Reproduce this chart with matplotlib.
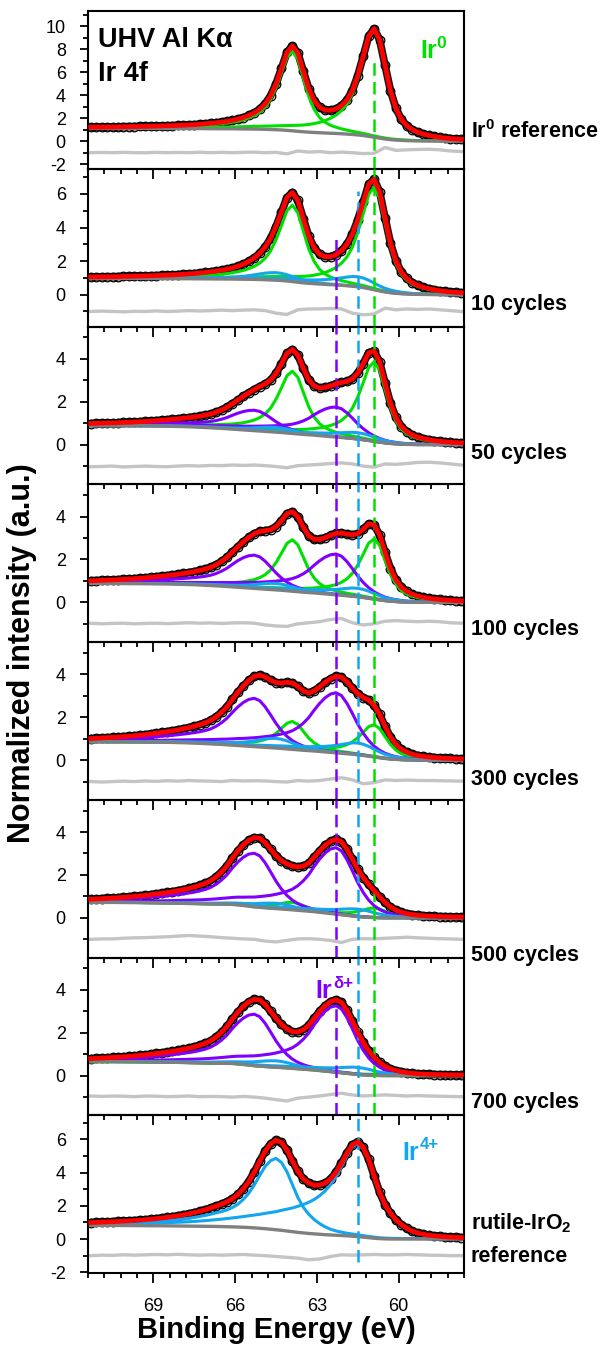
import numpy as np
import matplotlib
matplotlib.use('Agg')
from matplotlib import pyplot as plt
from matplotlib.ticker import MultipleLocator

plt.rcParams['font.family'] = ['Liberation Sans', 'DejaVu Sans']
plt.rcParams['axes.unicode_minus'] = False
plt.rcParams['mathtext.fontset'] = 'custom'
plt.rcParams['mathtext.rm'] = 'Liberation Sans:bold'
plt.rcParams['mathtext.it'] = 'Liberation Sans:bold'
plt.rcParams['mathtext.bf'] = 'Liberation Sans:bold'

# binding energy of the fit curves (71.3 ... 57.7 eV, 0.2 eV step), residuals on every 2nd point
energy = np.round(np.arange(71.3, 57.69, -0.2), 1)
energy_res = energy[::2]

# component line shapes, peak height = 1
ir0_72 = [
    0.005, 0.005, 0.005, 0.005, 0.005, 0.005, 0.006, 0.006, 0.006, 0.006,
    0.006, 0.007, 0.007, 0.007, 0.008, 0.008, 0.009, 0.009, 0.010, 0.010,
    0.011, 0.012, 0.013, 0.014, 0.015, 0.016, 0.017, 0.019, 0.021, 0.023,
    0.025, 0.027, 0.030, 0.033, 0.036, 0.040, 0.045, 0.050, 0.056, 0.063,
    0.072, 0.083, 0.097, 0.115, 0.140, 0.170, 0.215, 0.280, 0.380, 0.530,
    0.720, 0.920, 1.000, 0.910, 0.680, 0.450, 0.290, 0.190, 0.135, 0.100,
    0.078, 0.062, 0.050, 0.040, 0.032, 0.026, 0.021, 0.017, 0.014,
]
ir0_52 = [
    0.008, 0.009, 0.009, 0.010, 0.010, 0.011, 0.012, 0.013, 0.014, 0.015,
    0.016, 0.017, 0.019, 0.021, 0.023, 0.025, 0.027, 0.030, 0.033, 0.036,
    0.040, 0.045, 0.050, 0.056, 0.063, 0.072, 0.083, 0.097, 0.115, 0.140,
    0.170, 0.215, 0.280, 0.380, 0.530, 0.720, 0.920, 1.000, 0.910, 0.680,
    0.450, 0.290, 0.190, 0.135, 0.100, 0.078, 0.062, 0.050, 0.040, 0.032,
    0.026, 0.021, 0.017, 0.014, 0.012, 0.010, 0.009, 0.008, 0.007, 0.006,
    0.005, 0.005, 0.005, 0.005, 0.005, 0.005, 0.005, 0.005, 0.005,
]
ir4_72 = [
    0.013, 0.014, 0.015, 0.016, 0.017, 0.018, 0.019, 0.020, 0.021, 0.023,
    0.025, 0.027, 0.029, 0.031, 0.034, 0.037, 0.040, 0.043, 0.047, 0.051,
    0.056, 0.061, 0.067, 0.073, 0.080, 0.088, 0.096, 0.105, 0.115, 0.126,
    0.138, 0.150, 0.165, 0.180, 0.195, 0.215, 0.235, 0.255, 0.280, 0.305,
    0.335, 0.370, 0.415, 0.470, 0.540, 0.630, 0.740, 0.860, 0.960, 1.000,
    0.950, 0.830, 0.660, 0.490, 0.360, 0.270, 0.200, 0.150, 0.110, 0.080,
    0.060, 0.047, 0.037, 0.030, 0.025, 0.021, 0.018, 0.015, 0.013,
]
ir4_52 = [
    0.023, 0.025, 0.027, 0.029, 0.031, 0.034, 0.037, 0.040, 0.043, 0.047,
    0.051, 0.056, 0.062, 0.068, 0.075, 0.082, 0.090, 0.100, 0.110, 0.123,
    0.137, 0.152, 0.170, 0.190, 0.210, 0.235, 0.270, 0.320, 0.390, 0.480,
    0.600, 0.740, 0.870, 0.960, 1.000, 0.950, 0.830, 0.660, 0.490, 0.360,
    0.270, 0.200, 0.150, 0.110, 0.080, 0.060, 0.047, 0.037, 0.030, 0.025,
    0.021, 0.018, 0.015, 0.013, 0.011, 0.010, 0.009, 0.008, 0.007, 0.007,
    0.006, 0.006, 0.005, 0.005, 0.005, 0.004, 0.004, 0.004, 0.004,
]
dlt_72 = [
    0.012, 0.013, 0.014, 0.015, 0.016, 0.017, 0.018, 0.020, 0.021, 0.023,
    0.025, 0.027, 0.030, 0.032, 0.035, 0.038, 0.042, 0.046, 0.050, 0.055,
    0.060, 0.066, 0.072, 0.079, 0.087, 0.095, 0.105, 0.116, 0.125, 0.136,
    0.148, 0.162, 0.178, 0.195, 0.215, 0.240, 0.270, 0.310, 0.370, 0.450,
    0.550, 0.680, 0.800, 0.900, 0.970, 1.000, 0.960, 0.840, 0.680, 0.510,
    0.370, 0.260, 0.180, 0.125, 0.088, 0.063, 0.046, 0.035, 0.027, 0.021,
    0.017, 0.014, 0.012, 0.010, 0.009, 0.008, 0.007, 0.006, 0.005,
]
dlt_52 = [
    0.038, 0.042, 0.046, 0.050, 0.055, 0.060, 0.066, 0.072, 0.079, 0.087,
    0.095, 0.105, 0.116, 0.125, 0.136, 0.148, 0.162, 0.178, 0.195, 0.215,
    0.240, 0.270, 0.310, 0.370, 0.450, 0.550, 0.680, 0.800, 0.900, 0.970,
    1.000, 0.960, 0.840, 0.680, 0.510, 0.370, 0.260, 0.180, 0.125, 0.088,
    0.063, 0.046, 0.035, 0.027, 0.021, 0.017, 0.014, 0.012, 0.010, 0.009,
    0.008, 0.007, 0.006, 0.005, 0.004, 0.004, 0.004, 0.004, 0.004, 0.004,
    0.003, 0.003, 0.003, 0.003, 0.003, 0.003, 0.003, 0.003, 0.003,
]

# Shirley backgrounds, 1 at the high binding energy end
bg_ir0 = [
    1.0, 1.0, 1.0, 1.0, 1.0, 1.0, 1.0, 1.0, 1.0, 1.0,
    1.0, 0.995, 0.995, 0.99, 0.99, 0.985, 0.985, 0.98, 0.98, 0.975,
    0.975, 0.97, 0.97, 0.965, 0.965, 0.96, 0.96, 0.955, 0.95, 0.945,
    0.94, 0.93, 0.92, 0.905, 0.89, 0.87, 0.84, 0.805, 0.765, 0.73,
    0.70, 0.675, 0.655, 0.635, 0.615, 0.60, 0.575, 0.55, 0.52, 0.485,
    0.44, 0.375, 0.305, 0.235, 0.17, 0.12, 0.085, 0.06, 0.042, 0.03,
    0.02, 0.014, 0.01, 0.006, 0.003, 0.0, 0.0, 0.0, 0.0,
]
bg_mix = [
    1.0, 1.0, 1.0, 1.0, 0.995, 0.995, 0.995, 0.99, 0.99, 0.99,
    0.985, 0.985, 0.98, 0.98, 0.975, 0.97, 0.96, 0.955, 0.945, 0.935,
    0.92, 0.905, 0.89, 0.875, 0.86, 0.84, 0.82, 0.80, 0.78, 0.76,
    0.74, 0.72, 0.70, 0.68, 0.66, 0.64, 0.615, 0.59, 0.565, 0.54,
    0.52, 0.50, 0.475, 0.45, 0.425, 0.40, 0.375, 0.35, 0.325, 0.29,
    0.255, 0.215, 0.17, 0.13, 0.09, 0.06, 0.04, 0.02, 0.01, 0.005,
    0.0, 0.0, 0.0, 0.0, 0.0, 0.0, 0.0, 0.0, 0.0,
]
bg_dlt = [
    1.0, 1.0, 1.0, 1.0, 1.0, 0.995, 0.995, 0.99, 0.99, 0.985,
    0.98, 0.975, 0.97, 0.965, 0.96, 0.955, 0.95, 0.94, 0.93, 0.92,
    0.91, 0.90, 0.895, 0.89, 0.885, 0.88, 0.87, 0.84, 0.80, 0.76,
    0.71, 0.68, 0.65, 0.62, 0.60, 0.575, 0.55, 0.52, 0.49, 0.46,
    0.43, 0.40, 0.36, 0.32, 0.28, 0.24, 0.20, 0.16, 0.12, 0.08,
    0.05, 0.03, 0.015, 0.005, 0.0, 0.0, 0.0, 0.0, 0.0, 0.0,
    0.0, 0.0, 0.0, 0.0, 0.0, 0.0, 0.0, 0.0, 0.0,
]
bg_ir4 = [
    1.0, 1.0, 1.0, 1.0, 0.995, 0.995, 0.99, 0.99, 0.985, 0.985,
    0.98, 0.975, 0.975, 0.97, 0.97, 0.965, 0.96, 0.955, 0.95, 0.945,
    0.94, 0.935, 0.93, 0.925, 0.915, 0.905, 0.895, 0.88, 0.865, 0.845,
    0.82, 0.79, 0.76, 0.72, 0.68, 0.64, 0.59, 0.54, 0.49, 0.45,
    0.41, 0.38, 0.35, 0.32, 0.30, 0.28, 0.26, 0.235, 0.21, 0.18,
    0.14, 0.10, 0.06, 0.03, 0.012, 0.005, 0.0, 0.0, 0.0, 0.0,
    0.0, 0.0, 0.0, 0.0, 0.0, 0.0, 0.0, 0.0, 0.0,
]
bg_shapes = {'ir0': bg_ir0, 'mix': bg_mix, 'dlt': bg_dlt, 'ir4': bg_ir4}

# one entry per panel, top to bottom
panel_labels = ['Ir$^0$ reference', '10 cycles', '50 cycles', '100 cycles',
                '300 cycles', '500 cycles', '700 cycles', 'rutile-IrO$_2$']
label_y = [0.86, -0.59, -0.41, -1.28, -0.88, -1.75, -1.25, 0.98]
bg_kind = ['ir0', 'ir0', 'mix', 'mix', 'mix', 'dlt', 'dlt', 'ir4']
bg_level = [1.12, 0.97, 0.88, 0.88, 0.85, 0.72, 0.65, 0.82]
amp_ir0_72 = [9.3, 6.1, 3.7, 2.8, 1.5, 0.45, 0.05, 0.0]
amp_ir0_52 = [6.9, 4.55, 2.9, 2.4, 1.3, 0.35, 0.03, 0.0]
amp_dlt_72 = [0.0, 0.0, 1.4, 1.9, 2.8, 3.1, 3.1, 0.0]
amp_dlt_52 = [0.0, 0.0, 0.95, 1.55, 2.25, 2.5, 2.4, 0.0]
amp_ir4_72 = [0.0, 0.6, 0.3, 0.4, 0.55, 0.35, 0.33, 5.6]
amp_ir4_52 = [0.0, 0.45, 0.22, 0.3, 0.45, 0.25, 0.3, 4.3]
ylims = [(-2.4, 11.3), (-1.9, 7.5), (-1.85, 5.5), (-1.85, 5.5),
         (-1.85, 5.5), (-1.85, 5.5), (-1.85, 5.5), (-2.05, 7.45)]

residuals = [
    [-1.0, -0.98, -1.0, -0.97, -1.0, -1.01, -0.97, -1.0, -0.98, -1.0,
     -0.96, -1.0, -0.97, -1.0, -0.97, -0.95, -1.0, -0.97, -1.1, -0.85,
     -0.95, -0.9, -1.0, -0.95, -1.0, -1.08, -1.05, -0.55, -0.8, -0.75,
     -0.72, -0.7, -0.75, -0.85, -0.9],
    [-1.0, -0.98, -1.0, -1.02, -0.99, -1.0, -0.97, -1.0, -0.98, -0.95,
     -0.97, -0.95, -0.92, -0.95, -0.92, -0.9, -0.95, -1.1, -1.18, -0.9,
     -0.85, -0.85, -0.82, -0.85, -1.1, -1.2, -1.15, -0.8, -0.9, -0.85,
     -0.88, -0.85, -0.9, -0.95, -1.0],
    [-1.03, -1.02, -1.0, -1.04, -1.02, -1.0, -1.02, -1.03, -1.0, -0.98,
     -1.0, -0.97, -0.98, -0.95, -0.97, -0.95, -0.98, -1.02, -1.08, -0.98,
     -0.95, -0.92, -0.88, -0.85, -0.9, -1.0, -1.05, -0.9, -0.92, -0.88,
     -0.83, -0.82, -0.85, -0.9, -0.95],
    [-0.97, -1.0, -0.98, -0.97, -1.0, -0.98, -0.97, -0.99, -0.97, -0.95,
     -0.97, -0.96, -0.98, -0.96, -0.95, -0.97, -1.05, -1.1, -1.12, -1.0,
     -0.95, -0.9, -0.8, -0.75, -0.95, -1.05, -1.0, -0.88, -0.85, -0.88,
     -0.9, -0.88, -0.9, -0.95, -0.97],
    [-1.0, -1.02, -1.0, -0.98, -1.0, -0.97, -0.99, -0.96, -0.98, -0.95,
     -0.97, -0.98, -1.0, -0.95, -0.97, -0.96, -0.97, -1.0, -1.02, -0.95,
     -0.98, -0.95, -0.88, -0.82, -0.92, -1.1, -1.05, -0.92, -0.95, -0.93,
     -0.95, -0.95, -0.96, -0.97, -0.98],
    [-1.0, -0.98, -0.98, -0.95, -0.93, -0.92, -0.9, -0.88, -0.85, -0.82,
     -0.85, -0.88, -0.92, -0.95, -0.98, -1.0, -1.08, -1.12, -1.05, -0.98,
     -0.97, -1.0, -1.05, -1.15, -1.0, -0.97, -0.98, -0.95, -0.93, -0.9,
     -0.93, -0.95, -0.97, -0.98, -1.0],
    [-0.95, -0.97, -0.95, -0.96, -0.98, -0.95, -0.96, -0.98, -0.97, -0.95,
     -0.98, -0.97, -0.98, -1.0, -0.97, -1.0, -1.05, -1.12, -1.18, -1.05,
     -1.0, -0.95, -0.88, -0.82, -0.9, -0.95, -0.92, -0.9, -0.92, -0.95,
     -0.93, -0.95, -0.96, -0.97, -0.98],
    [-1.0, -0.97, -0.98, -0.95, -0.97, -0.95, -0.93, -0.95, -0.92, -0.95,
     -0.97, -0.95, -0.97, -0.95, -0.93, -0.97, -1.0, -1.05, -1.1, -1.15,
     -1.25, -1.2, -1.05, -0.95, -0.97, -0.95, -0.93, -0.95, -0.95, -0.93,
     -0.95, -0.97, -0.98, -1.0, -1.0],
]

# dashed position markers: (top, bottom) per panel, None = panel edge, no tuple = not drawn
ir0_pos, ir4_pos, dlt_pos = 60.9, 61.5, 62.3
ir0_spans = [(7.3, None), (None, None), (None, None), (None, None),
             (None, None), (None, None), (None, None), None]
ir4_spans = [None, (6.2, None), (None, None), (None, None),
             (None, None), (None, None), (None, None), (None, -1.4)]
dlt_spans = [None, (3.4, None), (None, None), (None, None),
             (None, None), (None, None), (3.6, None), None]

green = '#00e000'
purple = '#8000ff'
blue = '#14a5f0'
bg_color = '#7f7f7f'
res_color = '#c4c4c4'

components = [
    (ir0_72, amp_ir0_72, green), (ir0_52, amp_ir0_52, green),
    (dlt_72, amp_dlt_72, purple), (dlt_52, amp_dlt_52, purple),
    (ir4_72, amp_ir4_72, blue), (ir4_52, amp_ir4_52, blue),
]
markers = [(ir0_pos, ir0_spans, green), (ir4_pos, ir4_spans, blue), (dlt_pos, dlt_spans, purple)]

fig = plt.figure(figsize=(6.05, 13.49), dpi=100)
left, width = 0.1455, 0.6215
top, height = 0.9918, 0.11694
axes = []

for k in range(8):
    ax = fig.add_axes([left, top - (k + 1) * height, width, height])
    ax.set_facecolor('none')
    axes.append(ax)

    bg = bg_level[k] * np.array(bg_shapes[bg_kind[k]])
    envelope = bg.copy()
    for shape, amps, color in components:
        if amps[k] > 0:
            envelope = envelope + amps[k] * np.array(shape)

    # measured points: dense open circles around the fit
    ax.plot(energy, envelope, color='#1a1a1a', lw=5.6, zorder=1, solid_capstyle='round')
    ax.plot(energy, envelope, 'o', mfc='none', mec='black', ms=6.2, mew=0.9, zorder=1)
    for shape, amps, color in components:
        if amps[k] > 0:
            ax.plot(energy, bg + amps[k] * np.array(shape), color=color, lw=2.2, zorder=2)
    ax.plot(energy, bg, color=bg_color, lw=2.4, zorder=3)
    ax.plot(energy_res, residuals[k], color=res_color, lw=2.4, zorder=2)

    lo, hi = ylims[k]
    for pos, spans, color in markers:
        span = spans[k]
        if span is None:
            continue
        y_top = hi if span[0] is None else span[0]
        y_bot = lo if span[1] is None else span[1]
        ax.plot([pos, pos], [y_bot, y_top], color=color, lw=1.8, ls=(0, (5, 2.5)), zorder=3.5)

    ax.plot(energy, envelope, color='red', lw=3.4, zorder=4)

    ax.set_xlim(71.4, 57.6)
    ax.set_ylim(lo, hi)
    ax.xaxis.set_major_locator(MultipleLocator(3))
    ax.xaxis.set_minor_locator(MultipleLocator(0.6))
    ax.yaxis.set_major_locator(MultipleLocator(2))
    ax.yaxis.set_minor_locator(MultipleLocator(1))
    ax.tick_params(axis='x', which='both', direction='out', top=False, labelbottom=(k == 7),
                   width=1.3, labelsize=13, pad=11)
    ax.tick_params(axis='x', which='major', length=7)
    ax.tick_params(axis='x', which='minor', length=3.5)
    ax.tick_params(axis='y', which='both', direction='out', right=False, width=1.3, labelsize=13, pad=10)
    ax.tick_params(axis='y', which='major', length=6)
    ax.tick_params(axis='y', which='minor', length=3.5)
    for spine in ax.spines.values():
        spine.set_linewidth(1.5)

    ax.text(1.018, label_y[k], panel_labels[k], transform=ax.get_yaxis_transform(),
            fontsize=15.5, fontweight='bold', va='center', ha='left')

axes[7].text(1.018, -1.07, 'reference', transform=axes[7].get_yaxis_transform(),
             fontsize=15.5, fontweight='bold', va='center', ha='left')

axes[0].text(71.05, 8.2, 'UHV Al K\u03b1', fontsize=19.5, fontweight='bold')
axes[0].text(71.05, 5.2, 'Ir 4f', fontsize=19.5, fontweight='bold')
axes[0].text(59.2, 7.1, 'Ir$^0$', fontsize=18, fontweight='bold', color=green)

axes[6].text(63.05, 3.6, 'Ir', fontsize=18, fontweight='bold', color=purple)
axes[6].annotate('\u03b4+', xy=(63.05, 3.6), xytext=(12.5, 7.5), textcoords='offset points',
                 fontsize=12, fontweight='bold', color=purple)
axes[7].text(59.85, 4.78, 'Ir', fontsize=18, fontweight='bold', color=blue)
axes[7].annotate('4+', xy=(59.85, 4.78), xytext=(12.5, 7.5), textcoords='offset points',
                 fontsize=12, fontweight='bold', color=blue)

fig.text(0.036, 0.516, 'Normalized intensity (a.u.)', rotation=90, fontsize=22,
         fontweight='bold', ha='center', va='center')
fig.text(0.456, 0.014, 'Binding Energy (eV)', fontsize=21, fontweight='bold',
         ha='center', va='center')

fig.savefig('out.png', dpi=100)
